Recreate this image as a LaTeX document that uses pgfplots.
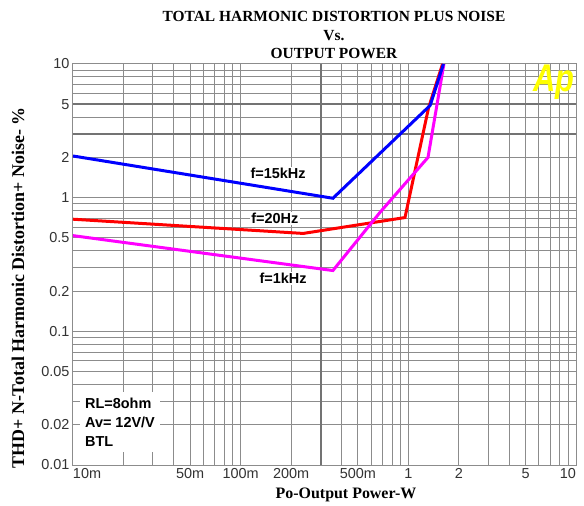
\documentclass[border=0pt]{standalone}
\usepackage{pgfplots}
\pgfplotsset{compat=1.18}
\usepackage{fontspec}
\setmainfont{Liberation Sans}
\newfontfamily\tnr{Liberation Serif}
\definecolor{gridc}{RGB}{140,140,140}
\definecolor{gridd}{RGB}{115,115,115}
\definecolor{apyellow}{RGB}{255,255,0}
\definecolor{cblue}{RGB}{0,0,255}
\definecolor{cred}{RGB}{255,0,0}
\definecolor{cmag}{RGB}{255,0,255}
\begin{document}
\begin{tikzpicture}
\path[use as bounding box] (-73bp,-41bp) rectangle (511bp,465bp);
\begin{axis}[
  scale only axis, width=503bp, height=401bp,
  at={(0,0)}, anchor=south west,
  xmode=log, ymode=log,
  xmin=0.01, xmax=10, ymin=0.01, ymax=10,
  axis line style={gridc, line width=1bp},
  major tick length=0pt, minor tick length=0pt,
  xmajorgrids, ymajorgrids,
  grid style={gridc, line width=1bp},
  xtick={0.01,0.02,0.03,0.04,0.05,0.06,0.07,0.08,0.09,0.1,0.2,0.3,0.4,0.5,0.6,0.7,0.8,0.9,1,2,3,4,5,6,7,8,9,10},
  xticklabels={{\makebox[0pt][l]{10m}},,,,50m,,,,,100m,200m,,,500m,,,,,1,2,,,5,,,,,{\makebox[0pt][r]{10}}},
  ytick={0.01,0.02,0.03,0.04,0.05,0.06,0.07,0.08,0.09,0.1,0.2,0.3,0.4,0.5,0.6,0.7,0.8,0.9,1,2,3,4,5,6,7,8,9,10},
  yticklabels={0.01,0.02,,,0.05,,,,,0.1,0.2,,,0.5,,,,,1,2,,,5,,,,,10},
  extra y ticks={3,5},
  extra y tick labels={,},
  extra y tick style={grid style={gridd, line width=1.8bp}},
  extra x ticks={0.3},
  extra x tick labels={},
  extra x tick style={grid style={gridd, line width=1.8bp}},
  /pgf/number format/assume math mode=true,
  ticklabel style={font=\fontsize{14.5}{15}\selectfont, text=black!80},
  clip=true,
]
\addplot[cred, line width=3bp] coordinates {(0.01,0.69) (0.236,0.54) (0.955,0.71) (1.32,4.7) (1.60,10)};
\addplot[cmag, line width=3bp] coordinates {(0.01,0.52) (0.355,0.285) (0.68,0.78) (1.31,2.0) (1.63,10)};
\addplot[cblue, line width=3bp] coordinates {(0.01,2.05) (0.355,0.99) (1.35,4.9) (1.62,10)};

\node[fill=white, inner sep=1.5bp, font=\bfseries\fontsize{14.5}{15}\selectfont] at (axis cs:0.167,1.52) {f=15kHz};
\node[fill=white, inner sep=1.5bp, font=\bfseries\fontsize{14.5}{15}\selectfont] at (axis cs:0.16,0.70) {f=20Hz};
\node[fill=white, inner sep=1.5bp, font=\bfseries\fontsize{14.5}{15}\selectfont] at (axis cs:0.179,0.248) {f=1kHz};
\node[fill=white, anchor=west, align=left, inner xsep=5bp, inner ysep=6bp, font=\bfseries\fontsize{14.5}{19}\selectfont] at (axis cs:0.0110,0.021) {RL=8ohm\\Av= 12V/V\\BTL};
\node[text=apyellow, font=\bfseries\itshape\fontsize{31}{31}\selectfont] at (axis cs:7.4,7.3) {\scalebox{1}[1.25]{Ap}};
\end{axis}
\node[anchor=base, font=\tnr\bfseries\fontsize{15.5}{16}\selectfont] at (261bp,443bp) {TOTAL HARMONIC DISTORTION PLUS NOISE};
\node[anchor=base, font=\tnr\bfseries\fontsize{15.5}{16}\selectfont] at (261bp,424bp) {Vs.};
\node[anchor=base, font=\tnr\bfseries\fontsize{15.5}{16}\selectfont] at (261bp,406bp) {OUTPUT POWER};
\node[rotate=90, font=\tnr\bfseries\fontsize{18}{18}\selectfont] at (-55bp,177bp) {THD+ N-Total Harmonic Distortion+ Noise- \%};
\node[font=\tnr\bfseries\fontsize{16}{16}\selectfont] at (273bp,-30bp) {Po-Output Power-W};
\end{tikzpicture}
\end{document}
